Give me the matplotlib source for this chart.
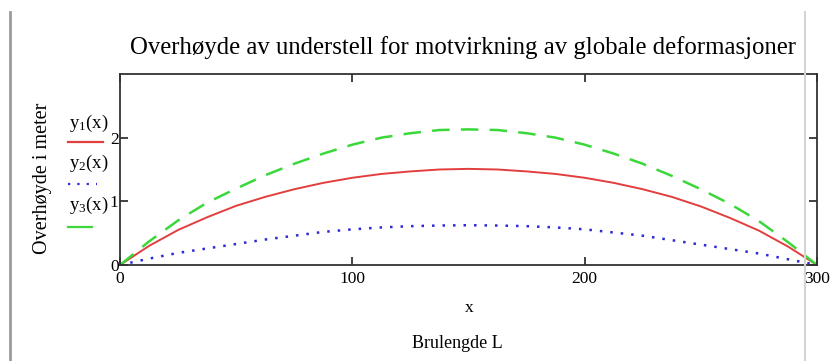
import matplotlib
matplotlib.use("Agg")
import matplotlib.pyplot as plt
from matplotlib.lines import Line2D

plt.rcParams["font.family"] = ["Liberation Serif", "DejaVu Serif"]
plt.rcParams["mathtext.fontset"] = "custom"
plt.rcParams["mathtext.rm"] = "Liberation Serif"
plt.rcParams["mathtext.it"] = "Liberation Serif:italic"

# Bridge span position [m] and camber curves [m]
x = [0, 12.5, 25, 37.5, 50, 62.5, 75, 87.5, 100, 112.5, 125, 137.5, 150,
     162.5, 175, 187.5, 200, 212.5, 225, 237.5, 250, 262.5, 275, 287.5, 300]
y1 = [0, 0.30, 0.55, 0.75, 0.93, 1.07, 1.19, 1.29, 1.37, 1.43, 1.47, 1.50, 1.51,
      1.50, 1.47, 1.43, 1.37, 1.29, 1.19, 1.07, 0.92, 0.74, 0.54, 0.29, 0]
y2 = [0, 0.10, 0.19, 0.26, 0.33, 0.40, 0.46, 0.52, 0.56, 0.59, 0.61, 0.62, 0.625,
      0.62, 0.61, 0.59, 0.56, 0.51, 0.46, 0.39, 0.32, 0.25, 0.18, 0.09, 0]
y3 = [0, 0.37, 0.70, 0.98, 1.20, 1.41, 1.59, 1.75, 1.89, 2.00, 2.07, 2.12, 2.13,
      2.12, 2.07, 2.00, 1.89, 1.75, 1.59, 1.40, 1.19, 0.96, 0.69, 0.36, 0]

x_ticks = [0, 100, 200, 300]
y_ticks = [0, 1, 2]
series_labels = [r"$\mathrm{y}_{1}\mathrm{(x)}$", r"$\mathrm{y}_{2}\mathrm{(x)}$", r"$\mathrm{y}_{3}\mathrm{(x)}$"]

title = "Overhøyde av understell for motvirkning av globale deformasjoner"
xlabel = "x"
xlabel2 = "Brulengde L"
ylabel = "Overhøyde i meter"

W, H = 835, 361
fig = plt.figure(figsize=(W / 100, H / 100), dpi=100)

def fx(px):
    return px / W

def fy(py):
    return 1 - py / H

left, right, top, bottom = 120, 817, 74, 265
ax = fig.add_axes([fx(left), fy(bottom), fx(right - left), fy(top) - fy(bottom)])

red = "#e23e3e"
blue = "#2a2ad6"
green = "#3ad83a"
blue_dots = (0, (1, 3.2))
green_dash = (0, (7, 4.5))

ax.plot(x, y1, color=red, lw=1.4, solid_capstyle="butt")
ax.plot(x, y2, color=blue, lw=1.8, linestyle=blue_dots)
ax.plot(x, y3, color=green, lw=1.8, linestyle=green_dash)

ax.set_xlim(0, 300)
ax.set_ylim(0, 3)
ax.set_xticks(x_ticks)
ax.set_yticks(y_ticks)
ax.set_xticklabels([str(t) for t in x_ticks], fontsize=12.5)
ax.set_yticklabels([str(t) for t in y_ticks], fontsize=12.5)
ax.tick_params(direction="in", length=6, width=1.2, color="#222222",
               top=True, right=True)
ax.tick_params(axis="y", pad=1)
ax.tick_params(axis="x", pad=4)
for s in ax.spines.values():
    s.set_linewidth(1.3)
    s.set_color("#333333")

fig.text(fx(463), fy(48), title, ha="center", va="center", fontsize=17.8)
fig.text(fx(469), fy(308), xlabel, ha="center", va="center", fontsize=12.5)
fig.text(fx(457), fy(343), xlabel2, ha="center", va="center", fontsize=13)
fig.text(fx(43), fy(178), ylabel, ha="center", va="center", rotation=90, fontsize=14.5)

# series key on the left
for lab, ty, ly, col, ls, x1 in [
    (series_labels[0], 123, 142, red, "-", 103),
    (series_labels[1], 163, 184, blue, blue_dots, 97),
    (series_labels[2], 205, 227, green, "-", 92),
]:
    fig.text(fx(69), fy(ty), lab, ha="left", va="center", fontsize=13.5)
    fig.add_artist(Line2D([fx(68), fx(x1)], [fy(ly), fy(ly)], color=col,
                          lw=1.6, linestyle=ls, transform=fig.transFigure))

# window frame edges
fig.add_artist(Line2D([fx(9.5), fx(9.5)], [fy(12), 0], color="#9a9a9a", lw=2,
                      transform=fig.transFigure))
fig.add_artist(Line2D([fx(805), fx(805)], [fy(12), 0], color="#d4d4d4", lw=1.5,
                      transform=fig.transFigure))

fig.savefig("out.png", dpi=100)
